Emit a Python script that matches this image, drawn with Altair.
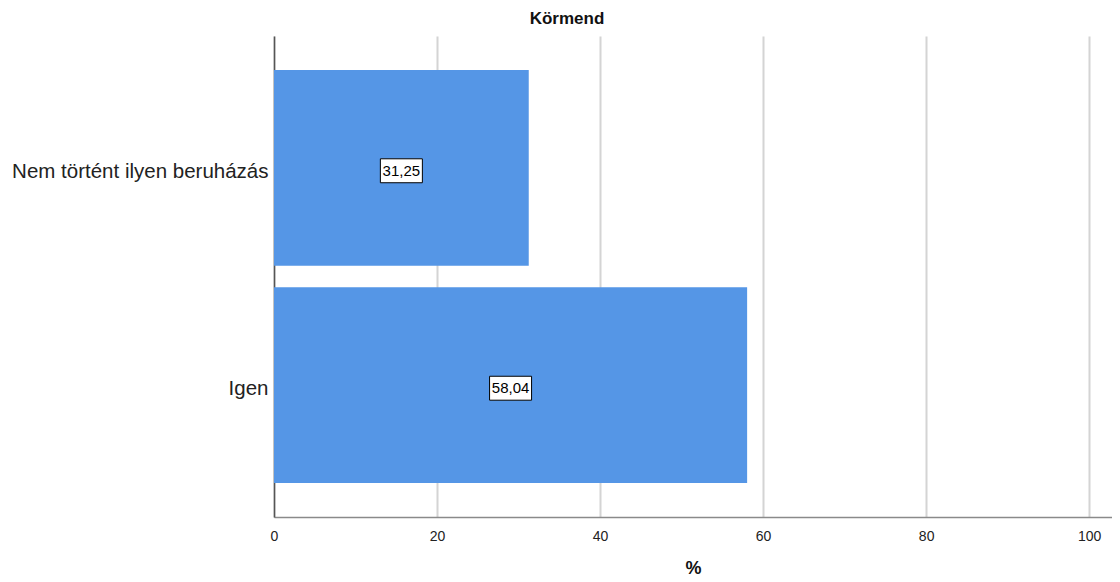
import altair as alt
import pandas as pd

categories = ["Nem történt ilyen beruházás", "Igen"]
values = [31.25, 58.04]
labels = ["31,25", "58,04"]
tick_values = [0, 20, 40, 60, 80, 100]

df = pd.DataFrame({"cat": categories, "val": values, "lab": labels})
df["mid"] = df["val"] / 2

FONT = "Liberation Sans"
x_scale = alt.Scale(domain=[0, 102.8], nice=False, zero=True)
y_scale = alt.Scale(paddingInner=0.1, paddingOuter=0.156)

base = alt.Chart(df)

bars = base.mark_bar(color="#5596e6").encode(
    x=alt.X("val:Q", scale=x_scale,
            axis=alt.Axis(values=tick_values, title="%", grid=True, gridColor="#d4d4d4",
                          gridWidth=2, ticks=False, domainColor="#8a8a8a", domainWidth=1.5,
                          labelFontSize=14, labelColor="#222222", labelPadding=12,
                          labelFlush=False,
                          titleFontSize=18, titleFontWeight="bold", titleColor="#111111",
                          titlePadding=16, labelFont=FONT, titleFont=FONT)),
    y=alt.Y("cat:N", sort=categories, scale=y_scale,
            axis=alt.Axis(title=None, labelFontSize=20.5, labelColor="#222222", labelPadding=6,
                          labelOffset=4,
                          ticks=False, domainColor="#555555", domainWidth=1.5,
                          labelFont=FONT, labelLimit=400)),
)

box = base.mark_point(
    shape="M-1,-0.57L1,-0.57L1,0.57L-1,0.57Z", filled=True, fill="white",
    stroke="black", strokeWidth=1, opacity=1, size=1764, yOffset=3
).encode(
    x=alt.X("mid:Q", scale=x_scale),
    y=alt.Y("cat:N", sort=categories, scale=y_scale),
)

text = base.mark_text(font=FONT, fontSize=15, color="black", align="center",
                      baseline="middle", dy=3).encode(
    x=alt.X("mid:Q", scale=x_scale),
    y=alt.Y("cat:N", sort=categories, scale=y_scale),
    text="lab:N",
)

chart = alt.layer(bars, box, text).properties(
    width=838,
    height=481,
    title=alt.TitleParams("Körmend", fontSize=17, fontWeight="bold", font=FONT,
                          anchor="middle", dx=-126, offset=8, color="#111111"),
    autosize=alt.AutoSizeParams(type="none"),
    padding={"left": 266, "top": 28, "right": 0, "bottom": 66},
).configure_view(stroke=None)

chart.save("out.html", embed_options={"renderer": "svg", "actions": False})
